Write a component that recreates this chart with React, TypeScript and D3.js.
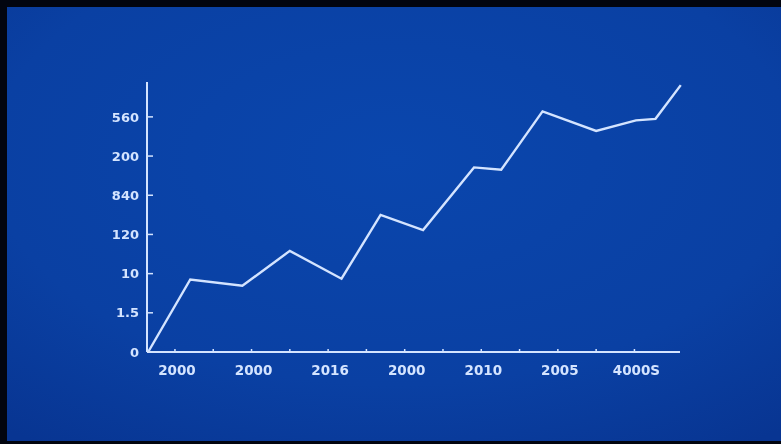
import React from "react";
import * as d3 from "d3";

// Data (in axis units; x tick = 1 unit, y tick = 1 unit)
const xValues = [-0.7, 0.4, 1.76, 3.0, 4.35, 5.37, 6.48, 7.81, 8.52, 9.6, 11.0, 12.04, 12.55, 13.21];
const yValues = [0, 1.85, 1.69, 2.58, 1.87, 3.5, 3.11, 4.71, 4.65, 6.14, 5.64, 5.91, 5.95, 6.81];
const xTickValues = [0, 1, 2, 3, 4, 5, 6, 7, 8, 9, 10, 11, 12];
const xTickLabels = ["2000", "", "2000", "", "2016", "", "2000", "", "2010", "", "2005", "", "4000S"];
const yTickValues = [0, 1, 2, 3, 4, 5, 6];
const yTickLabels = ["0", "1.5", "10", "120", "840", "200", "560"];

const W = 781;
const H = 444;

export default function App() {
  const x = d3.scaleLinear().domain([-0.73, 13.19]).range([147, 680]);
  const y = d3.scaleLinear().domain([0, 6.89]).range([352, 82]);
  const pts: [number, number][] = xValues.map((v, i) => [v, yValues[i]]);
  const line = d3
    .line<[number, number]>()
    .x((d) => x(d[0]))
    .y((d) => y(d[1]));
  const fg = "#d4e4ff";
  const font = "'DejaVu Sans', sans-serif";
  return (
    <svg
      width={W}
      height={H}
      style={{ position: "fixed", left: 0, top: 0, display: "block" }}
    >
      <defs>
        <radialGradient id="bg" cx="0.5" cy="0.35" r="0.8">
          <stop offset="0" stopColor="#0a46ad" />
          <stop offset="0.65" stopColor="#0a40a3" />
          <stop offset="1" stopColor="#083592" />
        </radialGradient>
        <filter id="glow" x="-5%" y="-5%" width="110%" height="110%">
          <feGaussianBlur stdDeviation="0.45" />
        </filter>
      </defs>
      <rect x={0} y={0} width={W} height={H} fill="#02050f" />
      <rect x={7} y={7} width={W - 7} height={H - 10} fill="url(#bg)" />
      <g filter="url(#glow)">
        {/* y axis */}
        <line x1={x.range()[0]} x2={x.range()[0]} y1={y.range()[0]} y2={y.range()[1]} stroke={fg} strokeWidth={2} />
        {/* x axis */}
        <line x1={x.range()[0]} x2={x.range()[1]} y1={y.range()[0]} y2={y.range()[0]} stroke={fg} strokeWidth={2} />
        {yTickValues.map((v, i) => (
          <g key={"y" + i}>
            {i > 0 && (
              <line x1={x.range()[0]} x2={x.range()[0] + 6} y1={y(v)} y2={y(v)} stroke={fg} strokeWidth={1.5} />
            )}
            <text
              x={139}
              y={y(v)}
              dy="0.36em"
              textAnchor="end"
              fill={fg}
              fontFamily={font}
              fontWeight="bold"
              fontSize={13}
            >
              {yTickLabels[i]}
            </text>
          </g>
        ))}
        {xTickValues.map((v, i) => (
          <g key={"x" + i}>
            <line x1={x(v)} x2={x(v)} y1={y.range()[0]} y2={y.range()[0] - 3} stroke={fg} strokeWidth={1.5} />
            {xTickLabels[i] && (
              <text
                x={x(v) + 2}
                y={375}
                textAnchor="middle"
                fill={fg}
                fontFamily={font}
                fontWeight="bold"
                fontSize={13.5}
              >
                {xTickLabels[i]}
              </text>
            )}
          </g>
        ))}
        <path d={line(pts) || ""} fill="none" stroke={fg} strokeWidth={2.4} strokeLinejoin="miter" />
      </g>
    </svg>
  );
}
